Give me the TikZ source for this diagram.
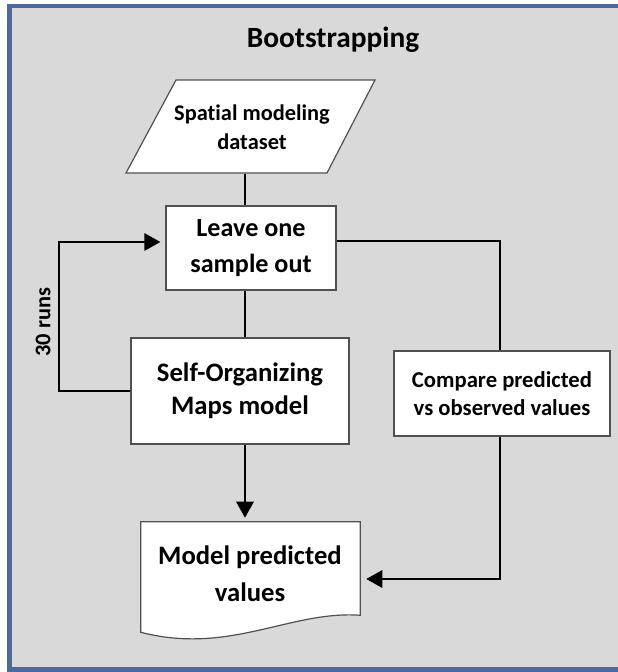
\documentclass[tikz,border=0pt]{standalone}
\usepackage{fontspec}
\setmainfont{Carlito}[Ligatures=NoCommon]
\usetikzlibrary{arrows.meta,calc}
\definecolor{bgc}{HTML}{D9D9D9}
\definecolor{framec}{HTML}{4A6A9C}
\definecolor{edgec}{HTML}{505050}
\begin{document}
\begin{tikzpicture}[x=0.75pt,y=-0.75pt,
  font=\bfseries,
  box/.style={draw=edgec, line width=0.9pt, fill=white, align=center, inner sep=0pt},
  shapeline/.style={draw=edgec, line width=0.9pt, fill=white},
  conn/.style={line width=1.5pt, black},
  arr/.style={conn, -{Triangle[length=12pt,width=13pt]}},
]
\useasboundingbox (0,0) rectangle (618,672);
\fill[white] (0,0) rectangle (618,672);
\draw[framec, line width=3.5pt, fill=bgc] (9.5,6) rectangle (624,669.5);

\node[font=\bfseries\fontsize{22}{26}\selectfont, anchor=base] (title) at (333,47) {Bootstrapping};

% input parallelogram
\draw[shapeline] (176,80) -- (375,80) -- (327,173) -- (126,173) -- cycle;
\node[align=center, inner sep=0pt, minimum height=69.75pt, font=\bfseries\fontsize{16.8}{21.75}\selectfont] (data) at (252,127) {Spatial modeling\\dataset};

\node[box, minimum width=127.5pt, minimum height=63pt, font=\bfseries\fontsize{19.6}{27}\selectfont] (leave) at (251,248) {Leave one\\sample out};
\node[box, minimum width=163.5pt, minimum height=79.5pt, font=\bfseries\fontsize{20}{25}\selectfont] (som) at (240,391) {Self-Organizing\\Maps model};
\node[box, minimum width=162pt, minimum height=63.75pt, font=\bfseries\fontsize{17}{21}\selectfont] (cmp) at (502,393.5) {Compare predicted\\vs observed values};

% document shape
\node[inner sep=0pt, minimum width=164.25pt, minimum height=69.75pt] (doc) at (250.5,568.5) {};
\draw[shapeline] (doc.north west) -- (doc.north east) -- (doc.south east)
  .. controls ($(doc.south east)+(-70,-5)$) and ($(doc.south west)+(89,40)$) .. ($(doc.south west)+(0,17)$) -- cycle;
\node[align=center, font=\bfseries\fontsize{20}{28}\selectfont] (doctext) at (250,574) {Model predicted\\values};

\node[rotate=90, font=\bfseries\fontsize{16.8}{20}\selectfont] (runs) at (43,322) {30 runs};

% connectors
\coordinate (spine) at (245,0);
\coordinate (rx) at (500,0);
\coordinate (lx) at (59,0);
\coordinate (ry) at (0,579);
\coordinate (lout) at ($(leave.east)+(0,-7)$);
\coordinate (lin) at ($(leave.west)+(0,-6)$);

\draw[conn] (data.south -| spine) -- (leave.north -| spine);
\draw[conn] (leave.south -| spine) -- (som.north -| spine);
\draw[arr, shorten >=3pt] (som.south -| spine) -- (doc.north -| spine);
\draw[conn] (lout) -- (lout -| rx) -- (cmp.north -| rx);
\draw[arr, shorten >=4.5pt] (cmp.south -| rx) |- (doc.east |- ry);
\draw[arr, shorten >=3.75pt] (som.west) -| (lx |- lin) -- (lin);
\end{tikzpicture}
\end{document}
